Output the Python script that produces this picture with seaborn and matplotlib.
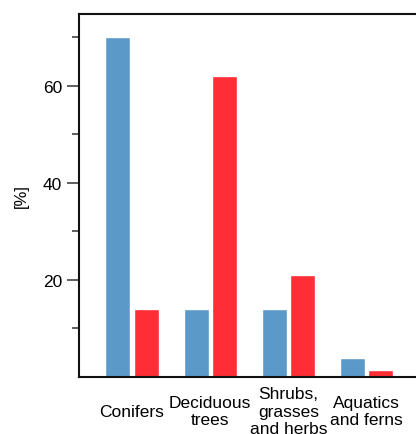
import matplotlib
matplotlib.use("Agg")
import matplotlib.pyplot as plt
import seaborn as sns
import pandas as pd
from matplotlib.ticker import FixedLocator

categories = ["Conifers", "Deciduous\ntrees", "Shrubs,\ngrasses\nand herbs", "Aquatics\nand ferns"]
series_names = ["A", "B"]
values_a = [70, 14, 14, 4]
values_b = [14, 62, 21, 1.5]
colors = ["#5B99C8", "#FF2E36"]
major_ticks = [20, 40, 60]
minor_ticks = [10, 30, 50, 70]

df = pd.DataFrame({
    "cat": categories * 2,
    "series": [series_names[0]] * 4 + [series_names[1]] * 4,
    "val": values_a + values_b,
})

sns.set_theme(style="white")
plt.rcParams["font.family"] = ["Liberation Sans", "DejaVu Sans"]
plt.rcParams["text.color"] = "black"
plt.rcParams["axes.labelcolor"] = "black"
plt.rcParams["xtick.color"] = "black"
plt.rcParams["ytick.color"] = "black"

fig = plt.figure(figsize=(4.16, 4.35), dpi=100)
ax = fig.add_axes([79/416, 57/435, 1.0 - 79/416 + 0.02, (378-15)/435])

sns.barplot(data=df, x="cat", y="val", hue="series", palette=colors,
            width=0.72, gap=0.11, ax=ax, legend=False, saturation=1)

ax.set_xlim(-0.678, 3.63 + 0.02 * 416 / 78.2)
ax.set_ylim(0, 74.8)
ax.yaxis.set_major_locator(FixedLocator(major_ticks))
ax.yaxis.set_minor_locator(FixedLocator(minor_ticks))
ax.tick_params(axis="y", which="major", length=8.6, width=1.1, color="#333333",
               labelsize=12.5, pad=3.6, left=True)
ax.tick_params(axis="y", which="minor", length=5, width=1.1, color="#333333", left=True)
ax.tick_params(axis="x", length=0, labelsize=12.5, pad=24.5)
for lab in ax.get_xticklabels():
    lab.set_va("center")
    lab.set_linespacing(1.2)
ax.set_xlabel("")
ax.set_ylabel("[%]", fontsize=12, labelpad=10)

for s in ["left", "top", "bottom"]:
    ax.spines[s].set_visible(True)
    ax.spines[s].set_linewidth(1.5)
    ax.spines[s].set_color("#111111")
ax.spines["right"].set_visible(False)

fig.savefig("out.png", dpi=100)
